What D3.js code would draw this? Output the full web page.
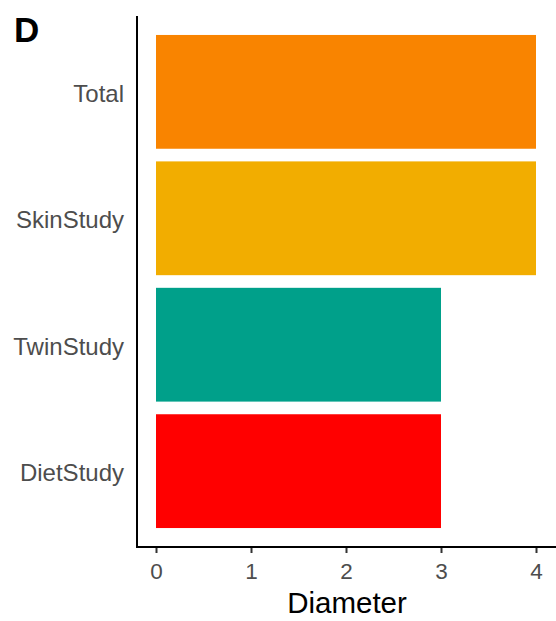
<!DOCTYPE html>
<html><head><meta charset="utf-8">
<script src="https://cdn.jsdelivr.net/npm/d3@7"></script>
<style>body{margin:0;background:#fff}text{font-family:"Liberation Sans",Arial,sans-serif}</style>
</head><body>
<svg id="c" width="556" height="621"></svg>
<script>
const categories = ["Total", "SkinStudy", "TwinStudy", "DietStudy"];
const values = [4, 4, 3, 3];
const colors = ["#F98400", "#F2AD00", "#00A08A", "#FF0000"];
const xTicks = [0, 1, 2, 3, 4];
const xLabel = "Diameter";
const panelTag = "D";

(function () {
const svg = d3.select("#c");
const pLeft = 137, pRight = 555, pTop = 16, pBottom = 547;
const x = d3.scaleLinear().domain([-0.2, 4.2]).range([pLeft, pRight]);
const y = d3.scaleBand().domain(categories).range([pTop, pBottom]).paddingInner(0.1).paddingOuter(0.15);

svg.selectAll("rect.bar").data(categories).join("rect")
  .attr("class", "bar")
  .attr("x", x(0))
  .attr("y", d => y(d))
  .attr("width", (d, i) => x(values[i]) - x(0))
  .attr("height", y.bandwidth())
  .attr("fill", (d, i) => colors[i]);

const xa = svg.append("g").attr("transform", `translate(0,${pBottom})`)
  .call(d3.axisBottom(x).tickValues(xTicks).tickFormat(d3.format("d")).tickSize(6).tickPadding(10));
xa.select(".domain").remove();
xa.selectAll(".tick line").attr("stroke", "#333").attr("stroke-width", 2);
xa.selectAll(".tick text").attr("fill", "#4d4d4d").attr("font-size", 22.5);

const ya = svg.append("g").attr("transform", `translate(${pLeft},0)`)
  .call(d3.axisLeft(y).tickSize(0).tickPadding(13));
ya.select(".domain").remove();
ya.selectAll(".tick text").attr("fill", "#4d4d4d").attr("font-size", 24).attr("dy", "0.42em");

svg.append("line").attr("x1", pLeft).attr("x2", pLeft).attr("y1", pTop).attr("y2", pBottom + 1)
  .attr("stroke", "#000").attr("stroke-width", 2);
svg.append("line").attr("x1", pLeft - 1).attr("x2", pRight + 1).attr("y1", pBottom).attr("y2", pBottom)
  .attr("stroke", "#000").attr("stroke-width", 2);

svg.append("text").attr("x", (pLeft + pRight) / 2 + 1).attr("y", 613).attr("text-anchor", "middle")
  .attr("font-size", 29.5).attr("fill", "#000").text(xLabel);

svg.append("text").attr("x", 14).attr("y", 42).attr("font-size", 35).attr("font-weight", "bold")
  .attr("fill", "#000").text(panelTag);
})();
</script>
</body></html>
